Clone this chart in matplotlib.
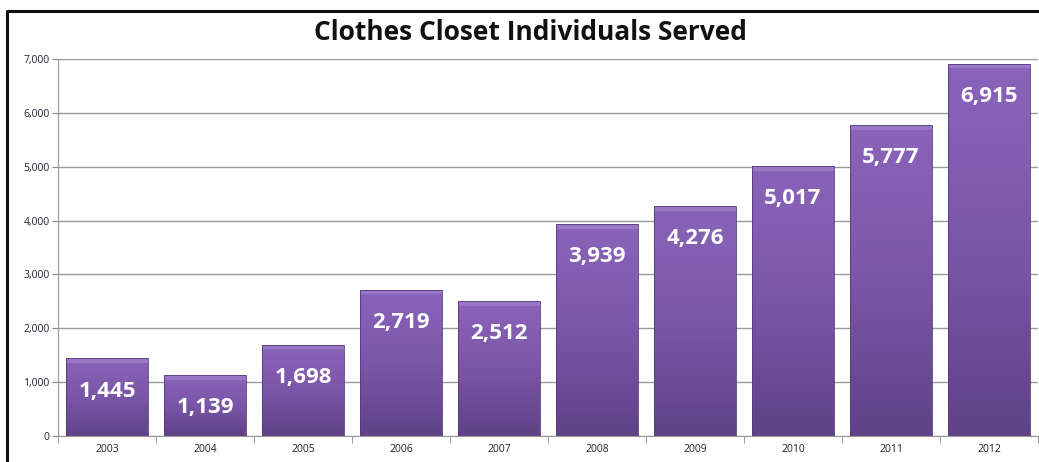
import matplotlib
matplotlib.use("Agg")
import matplotlib.pyplot as plt
import numpy as np
from matplotlib.lines import Line2D
from matplotlib.colors import LinearSegmentedColormap

years = ["2003", "2004", "2005", "2006", "2007", "2008", "2009", "2010", "2011", "2012"]
served = [1445, 1139, 1698, 2719, 2512, 3939, 4276, 5017, 5777, 6915]
yticks = [0, 1000, 2000, 3000, 4000, 5000, 6000, 7000]

plt.rcParams['font.family'] = ['Open Sans', 'DejaVu Sans']

W, H = 1039, 462
fig = plt.figure(figsize=(W/100, H/100), dpi=100)
ax = fig.add_axes([58/W, 26/H, 980/W, 377/H])

x = np.arange(len(years))
bars = ax.bar(x, served, width=0.83, color='none', edgecolor='#553a7a', linewidth=0.6, zorder=3)

cmap = LinearSegmentedColormap.from_list('p', ['#5f4287', '#7a56a8', '#8a64ba'])
grad = np.linspace(0, 1, 256).reshape(-1, 1)
for b in bars:
    x0, w, h = b.get_x(), b.get_width(), b.get_height()
    im = ax.imshow(grad, extent=(x0, x0 + w, 0, h), origin='lower', aspect='auto',
                   cmap=cmap, zorder=2)
    im.set_clip_path(b)
    ax.fill_between([x0, x0 + w], [h - 90, h - 90], [h, h], color='#9a78c8', zorder=2.5, lw=0)
    ax.annotate(f"{b.get_height():,.0f}", (x0 + w/2, h), xytext=(0, -33),
                textcoords='offset pixels', ha='center', va='center',
                color='white', fontsize=16, fontweight='bold', zorder=4)

ax.set_xlim(-0.5, len(years) - 0.5)
ax.set_ylim(0, 7000)
ax.set_yticks(yticks)
ax.set_yticklabels([f"{v:,}" for v in yticks], fontsize=7.5, color='#1f2330')
ax.set_xticks(x)
ax.set_xticklabels(years, fontsize=7.5, color='#222222')
ax.tick_params(axis='x', length=0, pad=6)
ax.tick_params(axis='y', length=4, color='#888888', pad=2)
ax.set_xticks(np.arange(-0.5, len(years), 1), minor=True)
ax.tick_params(axis='x', which='minor', length=5, color='#888888', direction='out')

ax.grid(axis='y', color='#9a9a9a', linewidth=1.0, zorder=1)
ax.set_axisbelow(True)
for s in ['top', 'right']:
    ax.spines[s].set_visible(False)
ax.spines['left'].set_color('#999999')
ax.spines['bottom'].set_color('#999999')

fig.text(530/W, 1 - 32/H, "Clothes Closet Individuals Served", ha='center', va='center',
         fontsize=19, fontweight='bold', color='#111111')

fig.add_artist(Line2D([7/W, 7/W, 1.0], [0, 1 - 11/H, 1 - 11/H], transform=fig.transFigure,
                      color='#111111', linewidth=2.2))

fig.savefig("out.png", dpi=100)
